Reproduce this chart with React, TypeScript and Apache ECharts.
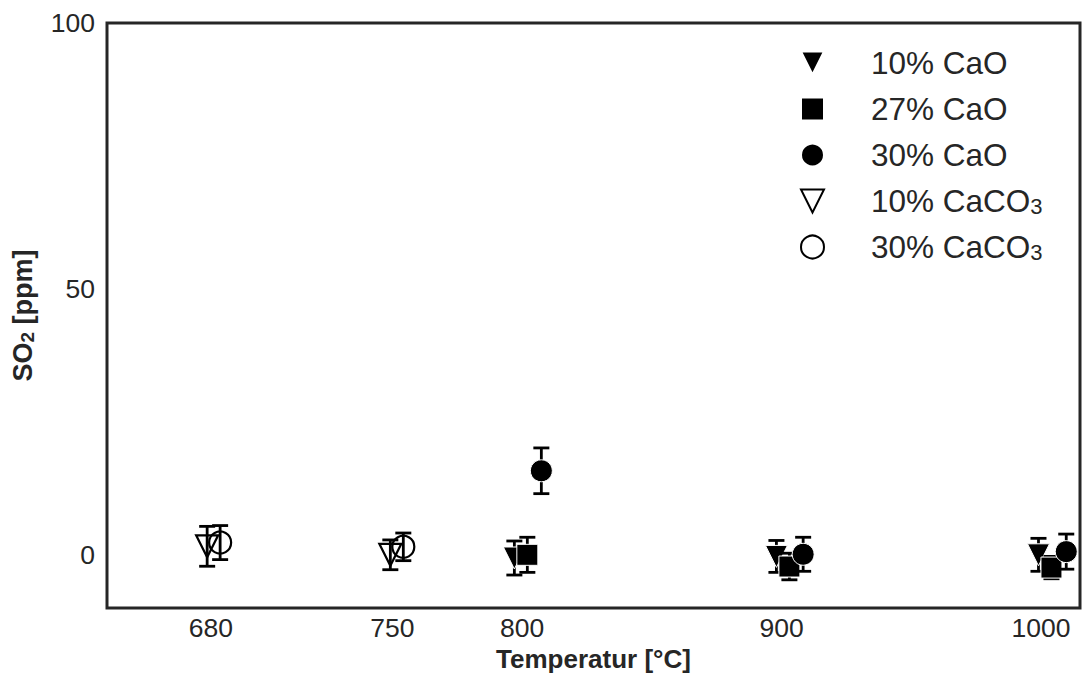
import React, { useEffect, useRef } from "react";
import * as echarts from "echarts";

// SO2 measurements (ppm) with standard deviation, per additive and temperature
const nameCaO10 = "10% CaO";
const tempCaO10 = [797, 898, 999];
const so2CaO10 = [-0.6, -0.3, 0.0];
const errCaO10 = [3.2, 3.0, 3.1];

const nameCaO27 = "27% CaO";
const tempCaO27 = [802, 903, 1004];
const so2CaO27 = [0.0, -2.2, -2.4];
const errCaO27 = [3.3, 2.5, 2.1];

const nameCaO30 = "30% CaO";
const tempCaO30 = [807.4, 908.3, 1009.7];
const so2CaO30 = [15.8, 0.1, 0.6];
const errCaO30 = [4.3, 3.2, 3.3];

const nameCaCO3_10 = "10% CaCO3";
const tempCaCO3_10 = [678.6, 749.2];
const so2CaCO3_10 = [1.6, 0.0];
const errCaCO3_10 = [3.75, 2.8];

const nameCaCO3_30 = "30% CaCO3";
const tempCaCO3_30 = [683.6, 754.2];
const so2CaCO3_30 = [2.3, 1.5];
const errCaCO3_30 = [3.2, 2.6];

const xTickLabels = [680, 750, 800, 900, 1000];
const yTickLabels = [0, 50, 100];

const TEXT = "#262626";
const FONT = "'Liberation Sans', Arial, Helvetica, sans-serif";
const TRI_DOWN = "path://M0,0L2,0L1,2Z";

type Spec = {
  name: string;
  temp: number[];
  so2: number[];
  err: number[];
  symbol: string;
  filled: boolean;
};

const specs: Spec[] = [
  { name: nameCaO10, temp: tempCaO10, so2: so2CaO10, err: errCaO10, symbol: TRI_DOWN, filled: true },
  { name: nameCaO27, temp: tempCaO27, so2: so2CaO27, err: errCaO27, symbol: "rect", filled: true },
  { name: nameCaO30, temp: tempCaO30, so2: so2CaO30, err: errCaO30, symbol: "circle", filled: true },
  { name: nameCaCO3_10, temp: tempCaCO3_10, so2: so2CaCO3_10, err: errCaCO3_10, symbol: TRI_DOWN, filled: false },
  { name: nameCaCO3_30, temp: tempCaCO3_30, so2: so2CaCO3_30, err: errCaCO3_30, symbol: "circle", filled: false },
];

function errorBarSeries(s: Spec, z: number) {
  return {
    type: "custom",
    name: s.name + " err",
    z,
    clip: false,
    encode: { x: 0, y: 1 },
    data: s.temp.map((t, i) => [t, s.so2[i], s.err[i]]),
    renderItem: (params: any, api: any) => {
      const x = api.value(0);
      const y = api.value(1);
      const e = api.value(2);
      const top = api.coord([x, y + e]);
      const bot = api.coord([x, y - e]);
      const cap = 8;
      const style = { stroke: "#000", lineWidth: 2.8 };
      return {
        type: "group",
        children: [
          { type: "line", shape: { x1: top[0], y1: top[1], x2: bot[0], y2: bot[1] }, style },
          { type: "line", shape: { x1: top[0] - cap, y1: top[1], x2: top[0] + cap, y2: top[1] }, style },
          { type: "line", shape: { x1: bot[0] - cap, y1: bot[1], x2: bot[0] + cap, y2: bot[1] }, style },
        ],
      };
    },
  };
}

function markerSeries(s: Spec, z: number) {
  return {
    type: "scatter",
    name: s.name,
    z,
    symbol: s.symbol,
    symbolSize: s.symbol === "rect" ? 21 : 22,
    data: s.temp.map((t, i) => [t, s.so2[i]]),
    itemStyle: s.filled
      ? { color: "#000", borderColor: "#fff", borderWidth: 1, opacity: 1 }
      : { color: "rgba(0,0,0,0)", borderColor: "#000", borderWidth: 2.2, opacity: 1 },
  };
}

export default function App() {
  const ref = useRef<HTMLDivElement>(null);

  useEffect(() => {
    if (!ref.current) return;
    const chart = echarts.init(ref.current, null, { renderer: "svg" });

    const series: any[] = [];
    specs.forEach((s, i) => {
      series.push(errorBarSeries(s, 2 + i * 2));
      series.push(markerSeries(s, 3 + i * 2));
    });

    chart.setOption({
      animation: false,
      backgroundColor: "#fff",
      textStyle: { fontFamily: FONT },
      grid: {
        left: 107,
        right: 7,
        top: 23,
        bottom: 68,
        outerBoundsMode: "none",
        containLabel: false,
        show: true,
        borderColor: TEXT,
        borderWidth: 3,
        backgroundColor: "#fff",
      },
      legend: {
        orient: "vertical",
        left: 795,
        top: 42,
        itemWidth: 23,
        itemHeight: 23,
        itemGap: 14,
        data: specs.map((s) => s.name),
        formatter: (name: string) =>
          name.endsWith("CaCO3") ? "{m|" + name.slice(0, -1) + "}{sub|3}" : "{m|" + name + "}",
        textStyle: {
          color: TEXT,
          fontFamily: FONT,
          fontSize: 31.5,
          padding: [0, 0, 0, 42],
          rich: {
            m: { fontSize: 31.5, color: TEXT, fontFamily: FONT, lineHeight: 32 },
            sub: {
              fontSize: 22,
              color: TEXT,
              fontFamily: FONT,
              lineHeight: 12,
              verticalAlign: "bottom",
            },
          },
        },
      },
      xAxis: {
        type: "value",
        min: 640,
        max: 1015,
        interval: 5,
        name: "Temperatur [°C]",
        nameLocation: "middle",
        nameGap: 36,
        nameTextStyle: { color: TEXT, fontSize: 26, fontWeight: "bold", fontFamily: FONT },
        axisLine: { show: false },
        axisTick: { show: false },
        splitLine: { show: false },
        axisLabel: {
          color: TEXT,
          fontSize: 26.5,
          fontFamily: FONT,
          margin: 6,
          formatter: (v: number) => (xTickLabels.includes(v) ? String(v) : ""),
        },
      },
      yAxis: {
        type: "value",
        min: -10,
        max: 100,
        interval: 10,
        name: "{b|SO}{s|2}{b| [ppm]}",
        nameLocation: "middle",
        nameGap: 70,
        nameRotate: 90,
        nameTextStyle: {
          color: TEXT,
          fontFamily: FONT,
          rich: {
            b: { fontSize: 27, fontWeight: "bold", color: TEXT, fontFamily: FONT, lineHeight: 28 },
            s: { fontSize: 19, fontWeight: "bold", color: TEXT, fontFamily: FONT, lineHeight: 14, verticalAlign: "bottom" },
          },
        },
        axisLine: { show: false },
        axisTick: { show: false },
        splitLine: { show: false },
        axisLabel: {
          color: TEXT,
          fontSize: 26.5,
          fontFamily: FONT,
          margin: 12,
          formatter: (v: number) => (yTickLabels.includes(v) ? String(v) : ""),
        },
      },
      series,
    });

    return () => chart.dispose();
  }, []);

  return (
    <div
      ref={ref}
      style={{ position: "fixed", left: 0, top: 0, width: 1087, height: 676, background: "#fff" }}
    />
  );
}
